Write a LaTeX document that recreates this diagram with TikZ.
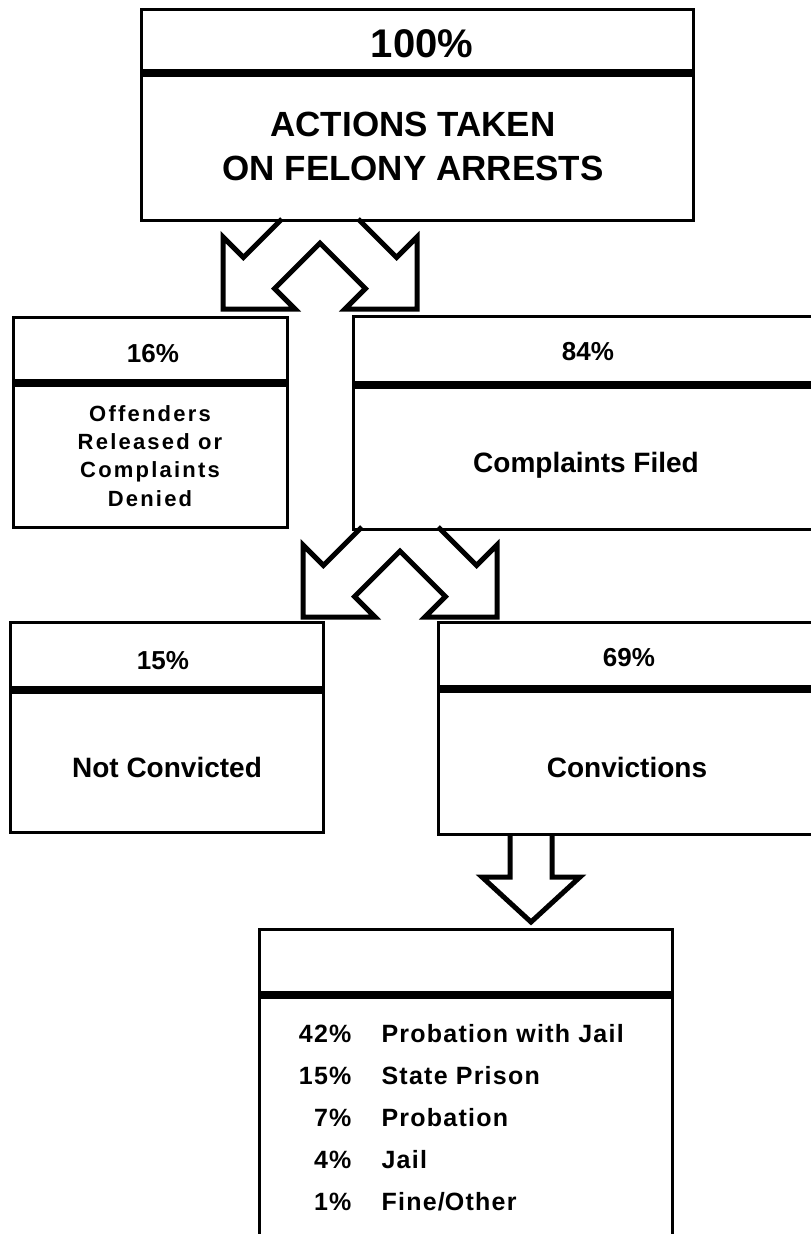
\documentclass[tikz,border=0pt]{standalone}
\usepackage{fontspec}
\setmainfont{Liberation Sans}
\newfontfamily\widesans[LetterSpace=10]{Liberation Sans}
\newfontfamily\listsans[LetterSpace=5]{Liberation Sans}
\usepackage{tikz}

\begin{document}
\begin{tikzpicture}[x=1pt,y=-1pt,
        box/.style={draw,line width=2.5pt,inner sep=0pt,anchor=north west},
        bar/.style={line width=8pt},
        blockarrow/.style={line width=5pt,line join=miter},
        bigpct/.style={font=\fontsize{40}{44}\selectfont\bfseries,anchor=base},
        headline/.style={font=\fontsize{35}{40}\selectfont\bfseries,anchor=base},
        pct/.style={font=\fontsize{26}{30}\selectfont\bfseries,anchor=base},
        boxtext/.style={font=\fontsize{28}{32}\selectfont\bfseries,anchor=base},
        smalltext/.style={font=\widesans\fontsize{22}{26}\selectfont\bfseries,anchor=base},
        listpct/.style={font=\listsans\fontsize{25}{30}\selectfont\bfseries,anchor=base east},
        listitem/.style={font=\listsans\fontsize{25}{30}\selectfont\bfseries,anchor=base west},
        splitarrow/.pic={
            \draw[blockarrow] (-38.2,0) -- (-76.6,38.4) -- (-97,18) -- (-97,90) -- (-25,90)
                -- (-45.4,69.6) -- (0,24.2) -- (45.4,69.6) -- (25,90) -- (97,90) -- (97,18)
                -- (76.6,38.4) -- (38.2,0);
        }]
        \path[use as bounding box,fill=white] (0,0) rectangle (811,1234);

        \node[box,minimum width=552pt,minimum height=211pt] (arrests) at (140,8) {};
        \draw[bar] ([yshift=-65pt]arrests.north west) -- ([yshift=-65pt]arrests.north east);
        \node[bigpct] (allpct) at (422,57) {100\%};
        \node[headline] (head1) at (413,136.5) {ACTIONS TAKEN};
        \node[headline] (head2) at (413,180) {ON FELONY ARRESTS};

        \node[box,minimum width=274pt,minimum height=210pt] (released) at (12,316) {};
        \draw[bar] ([yshift=-67pt]released.north west) -- ([yshift=-67pt]released.north east);
        \node[pct] (relpct) at (153,362) {16\%};
        \foreach \txt [count=\i from 0] in {Offenders,Released or,Complaints,Denied}
            \node[smalltext] (rel\i) at (150,421+28.4*\i) {\txt};

        \node[box,minimum width=470pt,minimum height=213pt] (filed) at (352,315) {};
        \draw[bar] ([yshift=-70pt]filed.north west) -- ([yshift=-70pt]filed.north east);
        \node[pct] (filpct) at (588,360) {84\%};
        \node[boxtext] (filtxt) at (586,472) {Complaints Filed};

        \node[box,minimum width=313pt,minimum height=210pt] (notconv) at (9,621) {};
        \draw[bar] ([yshift=-69pt]notconv.north west) -- ([yshift=-69pt]notconv.north east);
        \node[pct] (ncpct) at (163,669) {15\%};
        \node[boxtext] (nctxt) at (167,777) {Not Convicted};

        \node[box,minimum width=385pt,minimum height=212pt] (conv) at (437,621) {};
        \draw[bar] ([yshift=-68pt]conv.north west) -- ([yshift=-68pt]conv.north east);
        \node[pct] (cvpct) at (629,666) {69\%};
        \node[boxtext] (cvtxt) at (627,777) {Convictions};

        \node[box,minimum width=413pt,minimum height=340pt] (sentence) at (258,928) {};
        \draw[bar] ([yshift=-67pt]sentence.north west) -- ([yshift=-67pt]sentence.north east);
        \foreach \p/\txt [count=\i from 0] in {42/Probation with Jail,15/State Prison,7/Probation,4/Jail,1/Fine\slash Other}
        {
            \node[listpct] (spct\i) at (355,1042+42.2*\i) {\p\%};
            \node[listitem] (sitem\i) at (378,1042+42.2*\i) {\txt};
        }

        \coordinate (split1) at (320,219);
        \coordinate (split2) at (400,527);
        \pic at (split1) {splitarrow};
        \pic at (split2) {splitarrow};

        \coordinate (convout) at (531,833);
        \draw[blockarrow] ([xshift=-21pt]convout) -- ++(0,44) -- ++(-28,0) -- ++(49,45)
            -- ++(49,-45) -- ++(-28,0) -- ++(0,-44);
\end{tikzpicture}
\end{document}
